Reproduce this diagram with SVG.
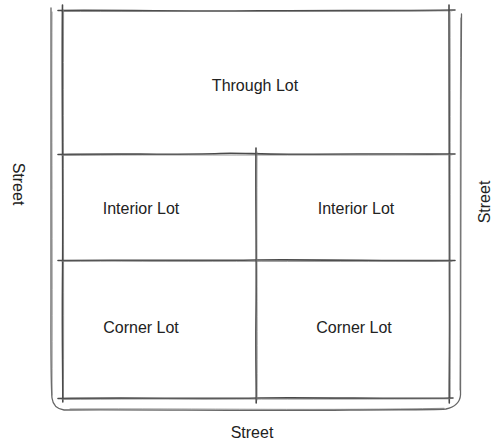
<svg xmlns="http://www.w3.org/2000/svg" width="499" height="444" viewBox="0 0 499 444">
<style>
.ln{fill:none;stroke:#4a4a4a;stroke-width:1.6;stroke-linecap:round;stroke-linejoin:round}
.ln2{fill:none;stroke:#777;stroke-width:0.8;stroke-linecap:round}
.st{fill:none;stroke:#666;stroke-width:1.3;stroke-linecap:round;stroke-linejoin:round}
.t{font-family:"Liberation Sans",Arial,sans-serif;font-size:16px;fill:#222;text-anchor:middle}
</style>
<rect width="499" height="444" fill="#fff"/>
<g id="streets">
<path class="st" d="M51,8 C50.5,100 51.5,200 51,300 C50.8,360 51.5,392 52,398 C53,406 57,409 64,410 C150,409.5 250,411 350,410 C400,409.5 430,410 446,409 C455,407 460,402 460.5,395 C461,300 461.5,200 461,100 C461,60 461.5,30 461.5,14"/>
<path class="ln2" d="M52,12 C51.5,120 52.5,250 52,395 M70,409 C200,408.5 330,410.5 444,408.3 M460,390 C460.5,250 460,120 460.8,18"/>
<text class="t" transform="translate(13,184) rotate(90)">Street</text>
<text class="t" transform="translate(490,202) rotate(-90)">Street</text>
<text class="t" x="252" y="438">Street</text>
</g>
<g id="connectors">
<path class="ln" d="M58,10.5 C120,10 200,11.5 260,10.8 C340,10 400,11 455,10"/>
<path class="ln2" d="M62,11.5 C160,11 300,12 452,10.8"/>
<path class="ln" d="M62.5,5 C61.5,80 63.5,200 62.5,280 C62,340 63,380 62.8,402"/>
<path class="ln2" d="M63.6,10 C63,150 64,300 63.4,398"/>
<path class="ln" d="M449,5 C449.5,100 448.5,200 449.5,300 C449.8,350 449,385 449.3,403"/>
<path class="ln2" d="M450,12 C450.5,150 449.6,300 450.2,398"/>
<path class="ln" d="M58,154.5 C120,153.5 180,155 220,153.5 C240,152.5 260,154.8 300,154.2 C380,153.5 420,154.5 455,154"/>
<path class="ln2" d="M62,155.3 C160,154.5 300,155.5 452,154.8"/>
<path class="ln" d="M58,260.5 C120,259.8 200,261 256,260 C320,259.5 400,261 455,260.5"/>
<path class="ln2" d="M62,261.3 C160,260.8 300,261.8 452,261.2"/>
<path class="ln" d="M58,398.5 C130,397.5 200,399 260,398 C330,397.5 400,399 453,398"/>
<path class="ln2" d="M62,399.3 C160,398.6 300,399.5 450,398.8"/>
<path class="ln" d="M256,148 C255.5,200 256.8,260 256,320 C255.6,360 256.5,390 256.2,403"/>
<path class="ln2" d="M257,152 C256.6,250 257.4,330 257,400"/>
</g>
<g id="through-lot"><text class="t" x="255" y="91">Through Lot</text></g>
<g id="interior-lot-left"><text class="t" x="141" y="214">Interior Lot</text></g>
<g id="interior-lot-right"><text class="t" x="356" y="214">Interior Lot</text></g>
<g id="corner-lot-left"><text class="t" x="141" y="333">Corner Lot</text></g>
<g id="corner-lot-right"><text class="t" x="354" y="333">Corner Lot</text></g>
</svg>
